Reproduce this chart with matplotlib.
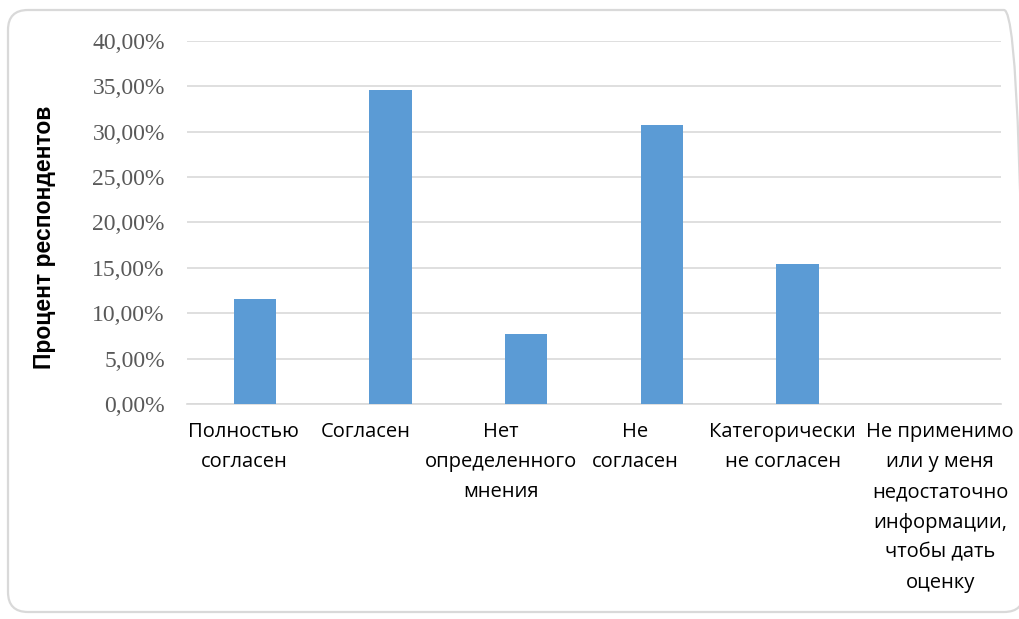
import matplotlib
matplotlib.use("Agg")
import matplotlib.pyplot as plt
from matplotlib.patches import FancyBboxPatch
from matplotlib.transforms import IdentityTransform, ScaledTranslation
from matplotlib.ticker import FuncFormatter

categories = [
    "Полностью\nсогласен",
    "Согласен",
    "Нет\nопределенного\nмнения",
    "Не\nсогласен",
    "Категорически\nне согласен",
    "Не применимо\nили у меня\nнедостаточно\nинформации,\nчтобы дать\nоценку",
]
percent = [11.54, 34.62, 7.69, 30.77, 15.38, 0.0]
yticks = [0, 5, 10, 15, 20, 25, 30, 35, 40]

fig = plt.figure(figsize=(10.19, 6.19), dpi=100)

# rounded chart border (in pixels)
border = FancyBboxPatch((8, 7), 1016, 602,
                        boxstyle="round,pad=0,rounding_size=20",
                        transform=IdentityTransform(), facecolor="none",
                        edgecolor="#d9d9d9", linewidth=1.6, zorder=-1)
fig.patches.append(border)

ax = fig.add_axes([187 / 1019, 1 - 404 / 619, (1001 - 187) / 1019, (404 - 41) / 619])
ax.set_facecolor("none")

x = range(len(categories))
ax.bar(x, percent, width=0.31, color="#5b9bd5", zorder=3)

ax.set_xlim(-0.5, len(categories) - 0.5)
ax.set_ylim(0, 40)
ax.set_yticks(yticks)
ax.yaxis.set_major_formatter(FuncFormatter(lambda v, p: f"{v:.2f}%".replace(".", ",")))
ax.grid(axis="y", color="#d9d9d9", linewidth=1.2, zorder=0)
ax.set_axisbelow(True)

for s in ["top", "right", "left"]:
    ax.spines[s].set_visible(False)
ax.spines["bottom"].set_color("#d9d9d9")
ax.spines["bottom"].set_linewidth(1.2)

ax.tick_params(axis="y", length=0, pad=16, labelsize=17, labelcolor="#595959")
for lab in ax.get_yticklabels():
    lab.set_fontfamily("Liberation Serif")

ax.set_xticks(list(x))
ax.set_xticklabels(categories, fontsize=14.5, fontfamily="Open Sans",
                   linespacing=1.68)
ax.tick_params(axis="x", length=0, pad=13)
# Excel-style label placement (pixel shifts as seen in the original)
label_shift = [-11, -25, -25, -27, -15, 7]
for lab, dx in zip(ax.get_xticklabels(), label_shift):
    lab.set_transform(lab.get_transform() + ScaledTranslation(dx / 100, 0, fig.dpi_scale_trans))

ax.set_ylabel("Процент респондентов", fontsize=16.5, fontweight="bold",
              fontfamily="Liberation Sans")
ax.yaxis.set_label_coords(-0.161, 0.46)

fig.savefig("out.png", dpi=100)
